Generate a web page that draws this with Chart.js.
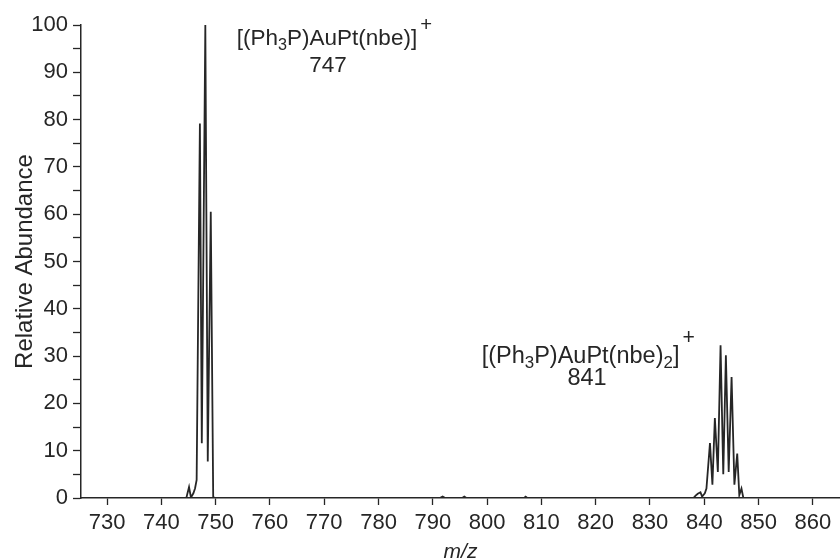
<!DOCTYPE html>
<html>
<head>
    <title>ESI mass spectrum</title>
    <script src="https://cdn.jsdelivr.net/npm/chart.js"></script>
    <style>
        html, body {
            margin: 0;
            padding: 0;
            background: #ffffff;
        }
        canvas {
            display: block;
        }
    </style>
</head>
<body>
    <canvas id="spectrum" width="840" height="560"></canvas>

    <script>
        // Profile of the spectrum: m/z and relative abundance (%)
        const mz = [
            725.2, 744.6, 745.1, 745.45, 745.9, 746.2, 746.5,
            747.1, 747.45, 748.1, 748.55, 749.1, 749.55, 749.8,
            791.3, 791.8, 792.3, 795.4, 795.8, 796.2, 806.8, 807.1, 807.4,
            838.0, 838.4, 838.8, 839.3, 839.6, 840.1, 840.4,
            841.05, 841.5, 841.95, 842.5, 843.0, 843.5, 843.98, 844.5,
            845.03, 845.55, 846.07, 846.45, 846.85, 847.2, 865.0
        ];
        const abundance = [
            0, 0, 2.3, 0.1, 1.0, 2.0, 3.8,
            79.2, 11.6, 100, 7.7, 60.5, 0.3, 0,
            0, 0.3, 0, 0, 0.3, 0, 0, 0.3, 0,
            0, 0.5, 0.9, 1.2, 0.3, 1.0, 2.0,
            11.6, 2.8, 16.9, 5.5, 32.3, 5.0, 30.2, 5.5,
            25.6, 2.8, 9.4, 0.6, 2.0, 0, 0
        ];

        const xTicks = [730, 740, 750, 760, 770, 780, 790, 800, 810, 820, 830, 840, 850, 860];
        const yTicks = [0, 5, 10, 15, 20, 25, 30, 35, 40, 45, 50, 55, 60, 65, 70, 75, 80, 85, 90, 95, 100];

        // Ion labels; parts: n = normal, sub = subscript, sup = superscript
        const ionLabels = [
            {
                formula: [['n', '[(Ph'], ['sub', '3'], ['n', 'P)AuPt(nbe)]'], ['sup', '+']],
                mass: '747',
                left: 753.9, base: 95.8,       // formula line: left edge (m/z), baseline (%)
                massAt: 770.7, massBase: 90.0, // mass line: centre (m/z), baseline (%)
                size: 22.5, rise: 14
            },
            {
                formula: [['n', '[(Ph'], ['sub', '3'], ['n', 'P)AuPt(nbe)'], ['sub', '2'], ['n', ']'], ['sup', '+']],
                mass: '841',
                left: 799.0, base: 28.5,
                massAt: 818.4, massBase: 23.9,
                size: 23.5, rise: 19
            }
        ];

        const ink = '#262626';
        const family = '"Liberation Sans", Arial, sans-serif';

        const points = mz.map((m, i) => ({ x: m, y: abundance[i] }));

        const ionLabelPlugin = {
            id: 'ionLabels',
            afterDatasetsDraw(chart) {
                const ctx = chart.ctx;
                const xs = chart.scales.x;
                const ys = chart.scales.y;
                ctx.save();
                ctx.fillStyle = ink;
                ctx.textBaseline = 'alphabetic';
                ionLabels.forEach(lab => {
                    let x = xs.getPixelForValue(lab.left);
                    const y = ys.getPixelForValue(lab.base);
                    lab.formula.forEach(([kind, txt]) => {
                        let size = lab.size;
                        let dy = 0;
                        if (kind === 'sub') { size = lab.size * 0.72; dy = 5; }
                        if (kind === 'sup') { size = lab.size * 0.9; dy = -lab.rise; x += 3; }
                        ctx.font = size + 'px ' + family;
                        ctx.textAlign = 'left';
                        ctx.fillText(txt, x, y + dy);
                        x += ctx.measureText(txt).width;
                    });
                    ctx.font = lab.size + 'px ' + family;
                    ctx.textAlign = 'center';
                    ctx.fillText(lab.mass, xs.getPixelForValue(lab.massAt), ys.getPixelForValue(lab.massBase));
                });
                ctx.restore();
            }
        };

        new Chart(document.getElementById('spectrum'), {
            type: 'line',
            data: {
                datasets: [{
                    data: points,
                    borderColor: ink,
                    borderWidth: 1.8,
                    pointRadius: 0,
                    tension: 0,
                    fill: false
                }]
            },
            options: {
                responsive: false,
                animation: false,
                layout: {
                    padding: { top: 25, right: 0, bottom: 0, left: 0 }
                },
                plugins: {
                    legend: { display: false },
                    tooltip: { enabled: false }
                },
                scales: {
                    x: {
                        type: 'linear',
                        min: 725.2,
                        max: 865,
                        afterBuildTicks: scale => {
                            scale.ticks = xTicks.map(v => ({ value: v }));
                        },
                        afterFit: scale => {
                            scale.height = 62;
                        },
                        grid: {
                            drawOnChartArea: false,
                            drawTicks: true,
                            tickLength: 7,
                            tickColor: ink,
                            tickWidth: 1.3
                        },
                        border: { color: ink, width: 1.5 },
                        ticks: {
                            color: ink,
                            padding: 5,
                            maxRotation: 0,
                            autoSkip: false,
                            font: { family: family, size: 22 }
                        },
                        title: {
                            display: true,
                            text: 'm/z',
                            color: ink,
                            padding: { top: 0, bottom: -5 },
                            font: { family: family, size: 21, style: 'italic' }
                        }
                    },
                    y: {
                        min: 0,
                        max: 100,
                        afterBuildTicks: scale => {
                            scale.ticks = yTicks.map(v => ({ value: v }));
                        },
                        afterFit: scale => {
                            scale.width = 81;
                        },
                        grid: {
                            drawOnChartArea: false,
                            drawTicks: true,
                            tickLength: 8,
                            tickColor: ink,
                            tickWidth: 1.3
                        },
                        border: { color: ink, width: 1.5 },
                        ticks: {
                            color: ink,
                            padding: 5,
                            autoSkip: false,
                            font: { family: family, size: 22 },
                            callback: v => (v % 10 === 0 ? String(v) : '')
                        },
                        title: {
                            display: true,
                            text: 'Relative Abundance',
                            color: ink,
                            padding: { top: 11, bottom: 0 },
                            font: { family: family, size: 24 }
                        }
                    }
                }
            },
            plugins: [ionLabelPlugin]
        });
    </script>
</body>
</html>
